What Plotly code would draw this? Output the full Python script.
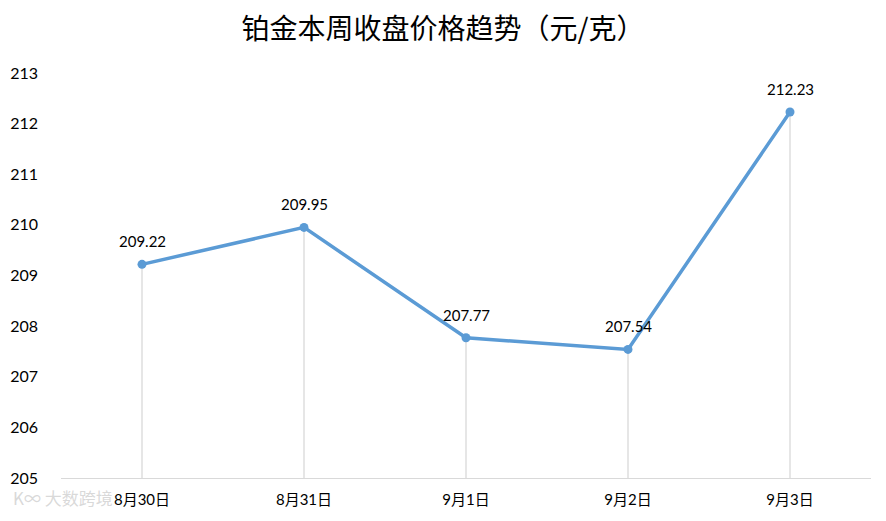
import plotly.graph_objects as go

categories = ["8月30日", "8月31日", "9月1日", "9月2日", "9月3日"]
prices = [209.22, 209.95, 207.77, 207.54, 212.23]
y_ticks = [205, 206, 207, 208, 209, 210, 211, 212, 213]
y_min, y_max = 205, 213
title = "铂金本周收盘价格趋势（元/克）"

font_family = "Lato, 'Noto Sans CJK SC', sans-serif"

fig = go.Figure()

# drop lines from each point to the axis
drop_x, drop_y = [], []
for c, v in zip(categories, prices):
    drop_x += [c, c, None]
    drop_y += [y_min, v, None]
fig.add_trace(go.Scatter(x=drop_x, y=drop_y, mode="lines",
                         line=dict(color="#d9d9d9", width=1.3),
                         hoverinfo="skip", showlegend=False))

fig.add_trace(go.Scatter(x=categories, y=prices, mode="lines+markers",
                         line=dict(color="#5b9bd5", width=3.5),
                         marker=dict(color="#5b9bd5", size=9),
                         showlegend=False))

for c, v in zip(categories, prices):
    fig.add_annotation(x=c, y=v, text=f"{v:.2f}", showarrow=False,
                       yshift=23, font=dict(size=15, color="#000000", family=font_family))

fig.add_annotation(xref="paper", yref="paper", x=-0.062, y=-0.047, xanchor="left", yanchor="middle",
                   text="K∞ 大数跨境", showarrow=False,
                   font=dict(size=17, color="rgba(210,210,210,0.85)", family="'Noto Sans CJK SC'"))

fig.update_layout(
    width=886, height=521,
    margin=dict(l=53, r=23, t=65, b=51),
    paper_bgcolor="white", plot_bgcolor="white",
    title=dict(text=title, x=0.491, xanchor="center", y=0.96, yanchor="middle",
               font=dict(size=28, color="#000000", family="'Noto Sans CJK SC', sans-serif")),
    font=dict(family=font_family, color="#000000"),
    xaxis=dict(type="category", range=[-0.5, 4.5], showgrid=False, zeroline=False,
               showline=True, linecolor="#d9d9d9", linewidth=1.3, automargin=False,
               ticks="", tickfont=dict(size=15, color="#000000"), ticklabelstandoff=8),
    yaxis=dict(range=[y_min, y_max], tickvals=y_ticks, showgrid=False, zeroline=False,
               showline=False, ticks="", tickfont=dict(size=16, color="#000000"),
               ticklabelstandoff=22, automargin=False),
)

fig.write_html("out.html")
